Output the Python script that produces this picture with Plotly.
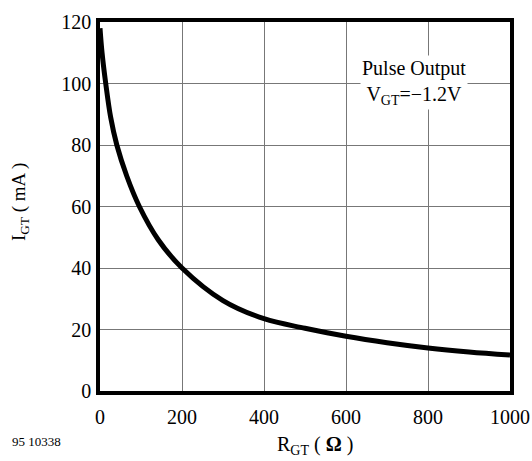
import plotly.graph_objects as go

r_gt = [0, 5, 14, 26, 41, 65, 96, 142, 200, 300, 400, 500, 600, 700, 800, 900, 1000]
i_gt = [118, 110, 100, 89, 80, 70, 60, 49.2, 40, 29.4, 23.5, 20.4, 17.8, 15.7, 14.0, 12.7, 11.7]
x_ticks = [0, 200, 400, 600, 800, 1000]
y_ticks = [0, 20, 40, 60, 80, 100, 120]

FONT = "Liberation Serif"

fig = go.Figure()
fig.add_trace(go.Scatter(x=r_gt, y=i_gt, mode="lines",
                         line=dict(color="black", width=5, shape="spline", smoothing=1.0),
                         showlegend=False, hoverinfo="skip"))

fig.update_layout(
    width=532, height=461,
    margin=dict(l=100, r=22, t=22, b=70, autoexpand=False),
    paper_bgcolor="white", plot_bgcolor="white",
    font=dict(family=FONT, color="black", size=20),
    xaxis=dict(range=[0, 1000], tickvals=x_ticks, ticktext=[str(v) for v in x_ticks],
               showgrid=True, gridcolor="#777777", gridwidth=1, automargin=False,
               showline=True, linecolor="black", linewidth=3.5, mirror=True,
               ticks="outside", ticklen=5, tickcolor="rgba(0,0,0,0)",
               zeroline=False, tickfont=dict(family=FONT, size=20)),
    yaxis=dict(range=[0, 120], tickvals=y_ticks, ticktext=[str(v) for v in y_ticks],
               showgrid=True, gridcolor="#777777", gridwidth=1, automargin=False,
               showline=True, linecolor="black", linewidth=3.5, mirror=True,
               ticks="outside", ticklen=1, tickcolor="rgba(0,0,0,0)",
               zeroline=False, tickfont=dict(family=FONT, size=20)),
)

fig.add_annotation(xref="paper", yref="paper", x=0.766, y=0.837,
                   xanchor="center", yanchor="middle",
                   text="Pulse Output<br>V<sub>GT</sub>=\u22121.2V",
                   showarrow=False, bgcolor="white", align="center",
                   font=dict(family=FONT, size=20), borderpad=1)
fig.add_annotation(xref="paper", yref="paper", x=0.524, y=-0.148,
                   xanchor="center", yanchor="middle",
                   text="R<sub>GT</sub> ( <b>\u03a9</b> )", showarrow=False,
                   font=dict(family=FONT, size=20))
fig.add_annotation(xref="paper", yref="paper", x=-0.195, y=0.512,
                   xanchor="center", yanchor="middle",
                   text="I<sub>GT</sub> ( mA )", textangle=-90, showarrow=False,
                   font=dict(family=FONT, size=19))
fig.add_annotation(xref="paper", yref="paper", x=-0.2195, xanchor="left", y=-0.138, yanchor="middle",
                   text="95 10338", showarrow=False,
                   font=dict(family=FONT, size=13))

fig.write_html("out.html")
